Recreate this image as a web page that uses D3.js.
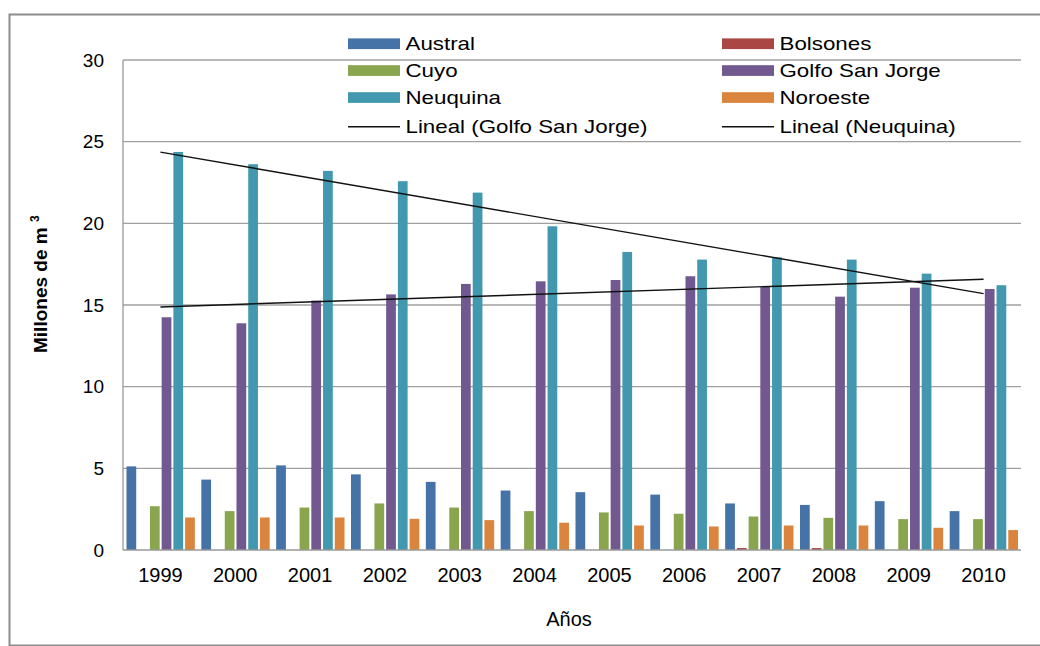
<!DOCTYPE html>
<html>
<head>
<meta charset="utf-8">
<script src="https://cdn.jsdelivr.net/npm/d3@7/dist/d3.min.js"></script>
<style>
  html, body { margin: 0; padding: 0; background: #fff; }
  svg { display: block; font-family: "Liberation Sans", Arial, sans-serif; }
</style>
</head>
<body>
<svg id="chart" width="1040" height="646"></svg>
<script>
// Producción por cuenca (millones de m3), 1999–2010
const years = ["1999","2000","2001","2002","2003","2004","2005","2006","2007","2008","2009","2010"];
const seriesNames = ["Austral","Bolsones","Cuyo","Golfo San Jorge","Neuquina","Noroeste"];
const austral   = [5.12, 4.31, 5.18, 4.63, 4.17, 3.64, 3.54, 3.39, 2.85, 2.76, 2.99, 2.38];
const bolsones  = [0, 0, 0, 0, 0, 0, 0, 0, 0.12, 0.12, 0, 0];
const cuyo      = [2.68, 2.38, 2.60, 2.85, 2.60, 2.38, 2.30, 2.22, 2.05, 1.97, 1.89, 1.89];
const golfoSJ   = [14.25, 13.88, 15.27, 15.65, 16.29, 16.45, 16.53, 16.76, 16.10, 15.51, 16.06, 15.98];
const neuquina  = [24.37, 23.62, 23.21, 22.58, 21.88, 19.82, 18.25, 17.78, 17.92, 17.78, 16.92, 16.21];
const noroeste  = [1.99, 1.99, 1.99, 1.91, 1.83, 1.67, 1.50, 1.44, 1.50, 1.50, 1.36, 1.22];
const yTicks = [0, 5, 10, 15, 20, 25, 30];
const colors = ["#4572A7", "#AA4643", "#89A54E", "#71588F", "#4198AF", "#DB843D"];

const seriesValues = [austral, bolsones, cuyo, golfoSJ, neuquina, noroeste];

const svg = d3.select("#chart");
const plot = { left: 123, right: 1021, top: 60, bottom: 550 };

// outer chart frame
svg.append("rect")
  .attr("x", 9.5).attr("y", 14.5)
  .attr("width", 1060).attr("height", 631)
  .attr("fill", "none").attr("stroke", "#8c8c8c").attr("stroke-width", 2);

const x0 = d3.scaleBand().domain(years).range([plot.left, plot.right]).padding(0);
const x1 = d3.scaleBand().domain(seriesNames)
  .range([3.5, x0.bandwidth() - 3]).paddingInner(0.17);
const y = d3.scaleLinear().domain([0, 30]).range([plot.bottom, plot.top]);

// horizontal gridlines
svg.append("g").selectAll("line").data(yTicks.filter(d => d > 0)).join("line")
  .attr("x1", plot.left).attr("x2", plot.right)
  .attr("y1", d => y(d)).attr("y2", d => y(d))
  .attr("stroke", "#a0a0a0").attr("stroke-width", 1.3);

// y axis labels
const yAxis = d3.axisLeft(y).tickValues(yTicks).tickSize(0).tickPadding(19);
const gy = svg.append("g").attr("transform", `translate(${plot.left},0)`).call(yAxis);
gy.select(".domain").remove();
gy.selectAll("text").attr("font-size", 19).attr("fill", "#000")
  .attr("font-family", "Liberation Sans, Arial, sans-serif");

// bars
const groups = svg.append("g").selectAll("g").data(years).join("g")
  .attr("transform", d => `translate(${x0(d)},0)`);
groups.selectAll("rect")
  .data((d, i) => seriesNames.map((s, k) => ({ s, k, v: seriesValues[k][i] })))
  .join("rect")
  .attr("x", d => x1(d.s))
  .attr("width", x1.bandwidth())
  .attr("y", d => y(d.v))
  .attr("height", d => y(0) - y(d.v))
  .attr("fill", d => colors[d.k]);

// axis lines
svg.append("line").attr("x1", plot.left).attr("x2", plot.left)
  .attr("y1", plot.top).attr("y2", plot.bottom)
  .attr("stroke", "#9a9a9a").attr("stroke-width", 1.3);
svg.append("line").attr("x1", plot.left).attr("x2", plot.right)
  .attr("y1", plot.bottom).attr("y2", plot.bottom)
  .attr("stroke", "#9a9a9a").attr("stroke-width", 1.3);

// x axis labels
const xAxis = d3.axisBottom(x0).tickSize(0).tickPadding(18);
const gx = svg.append("g").attr("transform", `translate(0,${plot.bottom})`).call(xAxis);
gx.select(".domain").remove();
gx.selectAll("text").attr("font-size", 20).attr("fill", "#000")
  .attr("font-family", "Liberation Sans, Arial, sans-serif");

// linear trend lines (least squares over category index)
function linearFit(vals) {
  const n = vals.length;
  const xs = vals.map((_, i) => i + 1);
  const mx = d3.mean(xs), my = d3.mean(vals);
  let sxy = 0, sxx = 0;
  xs.forEach((xv, i) => { sxy += (xv - mx) * (vals[i] - my); sxx += (xv - mx) * (xv - mx); });
  const b = sxy / sxx, a = my - b * mx;
  return [a + b * 1, a + b * n];
}
const centerX = yr => x0(yr) + x0.bandwidth() / 2;
const line = d3.line().x(d => d[0]).y(d => y(d[1]));
[golfoSJ, neuquina].forEach(vals => {
  const [v1, v2] = linearFit(vals);
  svg.append("path")
    .attr("d", line([[centerX(years[0]), v1], [centerX(years[years.length - 1]), v2]]))
    .attr("stroke", "#111").attr("stroke-width", 1.4).attr("fill", "none");
});

// legend (two columns, no background)
const legendItems = [
  { label: "Austral", type: "bar", color: colors[0] },
  { label: "Bolsones", type: "bar", color: colors[1] },
  { label: "Cuyo", type: "bar", color: colors[2] },
  { label: "Golfo San Jorge", type: "bar", color: colors[3] },
  { label: "Neuquina", type: "bar", color: colors[4] },
  { label: "Noroeste", type: "bar", color: colors[5] },
  { label: "Lineal (Golfo San Jorge)", type: "line" },
  { label: "Lineal (Neuquina)", type: "line" }
];
const colX = [348, 722];
const rowY = [43.7, 70.5, 97.5, 126];
const lg = svg.append("g").selectAll("g").data(legendItems).join("g")
  .attr("transform", (d, i) => `translate(${colX[i % 2]},${rowY[Math.floor(i / 2)]})`);
lg.filter(d => d.type === "bar").append("rect")
  .attr("x", 0).attr("y", -5.3).attr("width", 52).attr("height", 10.7)
  .attr("fill", d => d.color);
lg.filter(d => d.type === "line").append("line")
  .attr("x1", 0).attr("x2", 52).attr("y1", 0.7).attr("y2", 0.7)
  .attr("stroke", "#111").attr("stroke-width", 1.4);
lg.append("text")
  .attr("transform", "translate(57.5,6.5) scale(1.175,1)")
  .attr("font-size", 19).attr("fill", "#000")
  .text(d => d.label);

// axis titles
const yt = svg.append("text")
  .attr("transform", "translate(47,353) rotate(-90)")
  .attr("font-size", 19).attr("font-weight", "bold").attr("fill", "#000");
yt.append("tspan").text("Millones de m ");
yt.append("tspan").attr("font-size", 12).attr("dy", -8).text("3");

svg.append("text")
  .attr("x", (plot.left + plot.right) / 2 - 3).attr("y", 626)
  .attr("text-anchor", "middle").attr("font-size", 20).attr("fill", "#000")
  .text("Años");
</script>
</body>
</html>
